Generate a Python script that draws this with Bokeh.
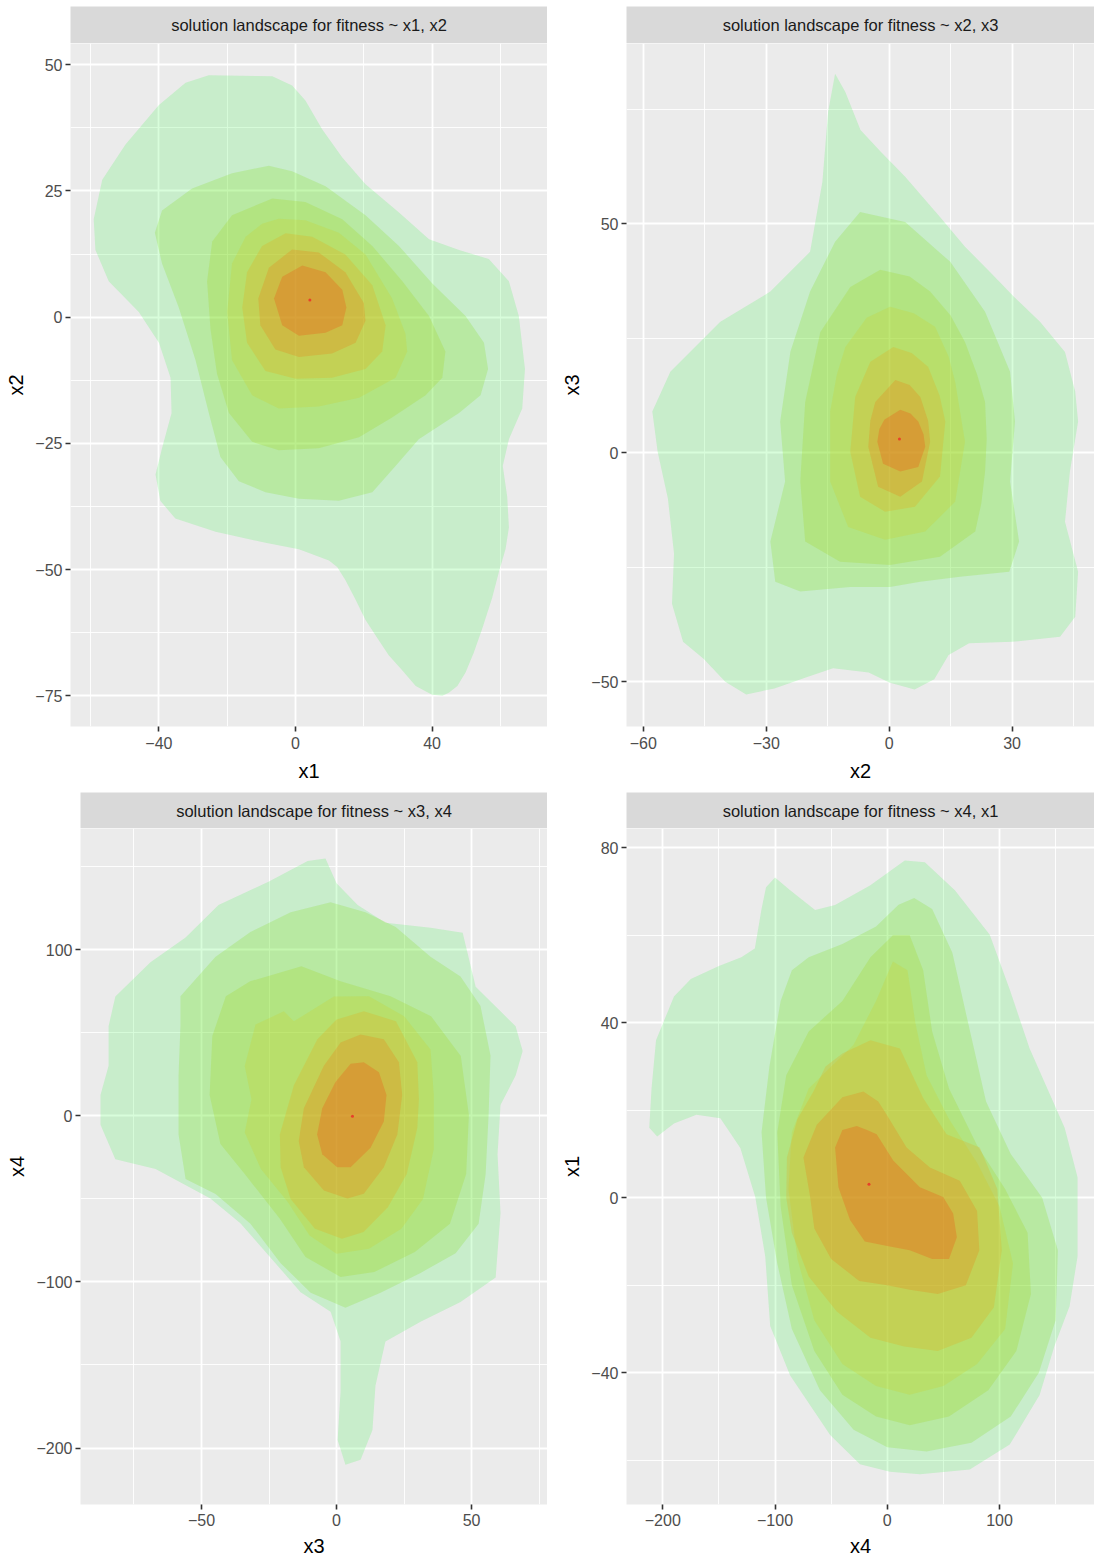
from bokeh.plotting import figure
from bokeh.layouts import column, row
from bokeh.models import Range1d, FixedTicker
from bokeh.embed import file_html
from bokeh.resources import INLINE
from bokeh.core.properties import value

FONT = "Liberation Sans"

# ---------------- texts ----------------
strip_titles = [
    "solution landscape for fitness ~ x1, x2",
    "solution landscape for fitness ~ x2, x3",
    "solution landscape for fitness ~ x3, x4",
    "solution landscape for fitness ~ x4, x1",
]
x_titles = ["x1", "x2", "x3", "x4"]
y_titles = ["x2", "x3", "x4", "x1"]

# ---------------- ticks / limits ----------------
x_major = [[-40, 0, 40], [-60, -30, 0, 30], [-50, 0, 50], [-200, -100, 0, 100]]
x_minor = [[-60, -20, 20, 60], [-45, -15, 15, 45], [-75, -25, 25, 75], [-150, -50, 50, 150]]
y_major = [[-75, -50, -25, 0, 25, 50], [-50, 0, 50], [-200, -100, 0, 100], [-40, 0, 40, 80]]
y_minor = [[-62.5, -37.5, -12.5, 12.5, 37.5], [-25, 25, 75], [-150, -50, 50, 150], [-60, -20, 20, 60]]
x_limits = [(-65.9, 73.8), (-64.1, 50.1), (-94.8, 78.1), (-232.3, 184.6)]
y_limits = [(-81.1, 54.2), (-59.8, 89.4), (-234.0, 173.0), (-70.1, 84.4)]

# ---------------- density level colours (low -> high) ----------------
level_colors = ["#3CF54B", "#78DE00", "#9AD100", "#D0CC14", "#EF9A00", "#F56400", "#FA2600"]
level_alpha = 0.2

# ---------------- contour outlines (data units), outer -> inner ----------------
p1_contours = [
    [(-25.4, 47.9), (-6.8, 47.7), (-1.0, 45.9), (2.9, 42.9), (7.8, 37.2), (13.7, 31.6), (20.5, 26.3),
     (30.3, 20.7), (39.1, 15.4), (47.9, 13.3), (56.6, 11.5), (62.5, 7.1), (65.4, 0.2), (67.2, -10.3),
     (66.4, -18.1), (62.5, -24.2), (60.7, -29.5), (62.0, -35.6), (62.5, -41.7), (61.5, -46.0),
     (59.6, -50.4), (57.6, -55.6), (54.7, -61.7), (52.2, -66.5), (49.8, -70.4), (47.4, -73.1),
     (44.9, -74.4), (43.0, -75.0), (40.0, -74.8), (35.2, -73.1), (31.3, -70.0), (27.3, -67.0),
     (23.9, -63.5), (20.5, -60.0), (17.6, -56.0), (14.6, -52.1), (12.2, -49.5), (9.8, -48.2),
     (1.0, -46.0), (-8.8, -44.7), (-23.4, -42.5),
     (-35.2, -39.9), (-39.6, -36.4), (-41.0, -31.2), (-39.1, -26.0), (-36.3, -19.0), (-36.6, -12.0),
     (-40.0, -5.1), (-45.9, 1.0), (-54.7, 7.1), (-58.6, 13.3), (-59.1, 19.4), (-56.6, 27.2),
     (-49.8, 34.2), (-40.0, 42.0), (-32.2, 46.4)],
    [(-7.8, 30.0), (-1.0, 28.9), (8.8, 25.9), (20.5, 20.2), (30.3, 14.1), (40.0, 6.7), (49.8, 0.2),
     (55.2, -5.1), (56.4, -10.3), (54.2, -15.5), (47.9, -19.0), (36.1, -24.2), (29.3, -29.5),
     (22.5, -34.7), (12.7, -36.4), (1.0, -36.0), (-8.8, -34.7), (-16.6, -32.5), (-22.0, -27.7),
     (-25.4, -19.0), (-29.3, -8.5), (-34.2, 1.9), (-39.1, 10.6), (-41.2, 16.7), (-39.1, 21.1),
     (-30.3, 25.5), (-18.6, 28.5)],
    [(-6.8, 23.5), (2.9, 22.8), (13.7, 19.4), (22.5, 14.1), (31.3, 7.1), (39.1, 0.2), (43.9, -6.8),
     (43.0, -12.0), (38.1, -15.5), (28.3, -19.9), (18.6, -23.8), (6.8, -26.0), (-4.9, -26.4),
     (-12.7, -24.7), (-19.5, -19.0), (-23.0, -11.2), (-24.9, -2.4), (-25.9, 7.1), (-24.4, 15.0),
     (-18.6, 20.2)],
    [(-4.9, 19.5), (2.9, 19.2), (12.7, 16.7), (20.5, 12.4), (28.3, 3.7), (32.2, -3.3), (32.7, -6.8),
     (29.3, -12.0), (18.6, -16.0), (6.8, -17.7), (-4.9, -18.1), (-12.7, -15.5), (-18.6, -8.5),
     (-20.0, 1.0), (-18.6, 10.6), (-14.6, 15.9), (-9.8, 18.5)],
    [(-2.9, 16.6), (4.9, 15.9), (14.6, 12.4), (22.5, 6.3), (26.4, -1.6), (25.4, -6.8), (20.5, -10.3),
     (10.7, -12.0), (0.0, -12.2), (-8.8, -10.7), (-14.2, -5.1), (-15.6, 1.9), (-14.2, 8.9), (-9.8, 14.1)],
    [(-1.0, 13.4), (6.8, 12.8), (14.6, 8.9), (20.0, 2.8), (20.5, -0.7), (17.6, -5.1), (10.7, -7.2),
     (1.0, -7.9), (-5.9, -6.4), (-10.3, -1.6), (-10.9, 3.7), (-7.8, 9.8)],
    [(2.0, 10.2), (8.8, 8.9), (13.7, 5.4), (14.9, 1.9), (13.7, -1.6), (8.8, -3.1), (1.0, -3.7),
     (-3.9, -1.6), (-6.3, 3.7), (-3.9, 8.0)],
]

p2_contours = [
    [(-13.2, 82.8), (-10.7, 78.8), (-7.0, 70.5), (-2.0, 65.7), (3.9, 60.3), (12.4, 51.5), (18.5, 45.0),
     (24.6, 39.5), (30.5, 34.0), (36.8, 28.6), (42.9, 22.0), (45.4, 13.3), (46.1, 6.8), (44.1, -4.1),
     (42.9, -15.1), (46.1, -26.0), (45.4, -35.8),
     (41.7, -40.2), (30.0, -41.3), (19.5, -41.6), (14.5, -44.2), (11.0, -49.5), (6.2, -51.7),
     (0.0, -50.2), (-5.0, -48.0), (-13.7, -47.1), (-20.0, -49.0), (-28.0, -51.5), (-34.9, -52.8),
     (-40.0, -50.0), (-45.3, -45.0), (-50.3, -41.3), (-53.0, -33.0), (-52.5, -22.0), (-54.0, -10.0),
     (-56.5, 0.2), (-57.8, 9.0), (-53.4, 17.7), (-41.2, 28.6), (-29.0, 35.2), (-19.3, 43.9),
     (-16.3, 59.2), (-14.9, 74.5)],
    [(-7.1, 52.6), (3.9, 50.4), (14.9, 41.7), (23.4, 30.8), (29.5, 17.7), (30.7, 6.8), (29.5, -6.3),
     (31.7, -19.4), (29.3, -26.0), (17.3, -27.1), (7.6, -28.2), (0.2, -29.3), (-9.5, -29.3),
     (-21.7, -30.3), (-27.8, -28.2), (-29.0, -19.4), (-25.4, -6.3), (-26.6, 6.8), (-24.1, 22.1),
     (-19.3, 35.2), (-13.2, 46.1)],
    [(-2.2, 40.0), (5.0, 38.5), (10.0, 35.2), (15.0, 30.0), (18.5, 24.2), (21.5, 17.0), (23.4, 11.1),
     (23.8, 3.0), (23.4, -4.1), (22.5, -11.0), (21.0, -17.2), (12.4, -22.7), (0.2, -24.5),
     (-12.0, -23.8), (-20.5, -19.4), (-21.7, -6.3), (-20.5, 11.1), (-16.8, 26.4), (-9.5, 36.2)],
    [(0.2, 31.9), (6.0, 30.5), (11.2, 27.5), (14.5, 21.0), (16.1, 15.5), (18.5, 2.4), (16.1, -10.7),
     (8.8, -17.2), (-1.0, -19.0), (-10.0, -16.2), (-14.4, -6.3), (-14.4, 9.0), (-12.8, 17.0),
     (-10.7, 23.1), (-5.5, 29.5)],
    [(1.0, 23.1), (5.5, 21.8), (9.5, 18.8), (12.3, 12.5), (13.7, 6.8), (12.4, -5.2), (6.3, -11.8),
     (-1.0, -12.9), (-7.1, -9.6), (-9.5, 0.2), (-8.3, 12.2), (-4.6, 19.9)],
    [(1.5, 15.9), (5.0, 14.8), (7.6, 12.2), (9.5, 7.0), (10.0, 2.4), (8.0, -6.3), (2.7, -9.6),
     (-2.7, -7.4), (-5.1, 1.3), (-4.6, 7.0), (-3.4, 11.1)],
    [(2.7, 9.4), (5.2, 8.6), (7.1, 6.8), (8.4, 4.0), (8.8, 1.3), (7.1, -3.1), (2.7, -4.1), (-1.5, -2.4),
     (-2.9, 2.4), (-2.4, 5.2), (-1.2, 7.2)],
]

p3_contours = [
    [(-10.7, 153.5), (-4.1, 155.0), (0.0, 140.0), (7.8, 127.0), (18.1, 116.3), (34.8, 113.3),
     (46.7, 110.3), (51.5, 77.7), (58.9, 65.8), (66.3, 54.0), (68.9, 39.1), (66.3, 24.3), (60.7, 6.5),
     (59.6, -23.1), (60.7, -58.7), (58.9, -97.3), (45.9, -112.1), (31.1, -124.0), (18.1, -135.8),
     (14.4, -162.5), (13.3, -189.2), (8.9, -207.0), (3.3, -210.0), (0.4, -195.1), (1.5, -165.5),
     (1.5, -135.8), (-2.2, -118.0), (-13.3, -106.2), (-24.4, -85.4), (-35.6, -64.6), (-46.7, -49.8),
     (-67.0, -32.0), (-81.9, -26.1), (-87.4, -5.3), (-87.4, 12.5), (-84.4, 30.2), (-84.4, 54.0),
     (-81.9, 71.8), (-68.9, 92.5), (-55.9, 107.4), (-43.7, 127.0), (-25.2, 141.0)],
    [(-57.8, 72.0), (-44.8, 95.8), (-31.9, 110.7), (-17.0, 122.6), (-2.2, 128.6), (10.7, 122.6),
     (21.9, 113.7), (34.8, 95.8), (45.9, 83.9), (53.3, 66.1), (57.0, 36.3), (56.3, 0.6), (55.2, -35.1),
     (52.6, -64.9), (44.1, -82.7), (31.1, -94.6), (16.3, -106.5), (3.3, -115.5), (-9.6, -106.5),
     (-20.7, -88.7), (-31.9, -64.9), (-44.8, -47.0), (-55.9, -38.1), (-58.5, -11.3), (-58.5, 24.4),
     (-57.8, 54.2)],
    [(-32.0, 81.0), (-13.0, 90.0), (1.5, 81.0), (20.0, 72.0), (35.0, 60.0), (46.0, 36.0), (49.0, 0.6),
     (48.0, -35.0), (42.0, -65.0), (29.0, -82.0), (14.0, -94.0), (1.5, -97.0), (-11.5, -85.0),
     (-21.0, -62.0), (-34.0, -35.0), (-43.0, -17.0), (-47.0, 12.5), (-46.0, 48.0), (-41.0, 72.0)],
    [(-19.5, 62.9), (-15.8, 56.9), (-1.0, 71.8), (12.0, 72.0), (25.0, 60.0), (34.8, 40.0), (36.0, 12.5),
     (36.0, -20.0), (32.0, -50.0), (24.0, -68.0), (12.0, -80.0), (0.0, -83.0), (-10.0, -72.0),
     (-18.0, -52.0), (-28.0, -32.0), (-34.0, -10.0), (-31.5, 10.0), (-34.0, 30.0), (-30.0, 55.0)],
    [(10.1, 62.9), (22.0, 57.0), (29.9, 32.2), (30.5, 10.0), (29.9, -7.3), (26.0, -35.0), (19.0, -55.0),
     (10.0, -70.0), (2.0, -74.0), (-8.0, -68.0), (-17.0, -50.0), (-20.7, -31.0), (-21.0, -11.3),
     (-15.8, 18.4), (-7.1, 46.1), (0.0, 58.0)],
    [(8.9, 49.0), (17.5, 46.1), (23.1, 32.2), (24.3, 12.5), (22.5, -11.3), (17.5, -31.0), (10.1, -46.9),
     (4.0, -49.8), (-4.7, -44.9), (-12.1, -31.0), (-14.0, -15.2), (-12.1, 4.6), (-4.7, 30.2), (1.5, 44.1)],
    [(5.2, 31.3), (10.1, 32.2), (15.7, 26.3), (18.5, 12.5), (17.5, -3.4), (12.6, -19.2), (5.2, -31.0),
     (0.2, -31.0), (-5.3, -23.1), (-7.2, -11.3), (-5.3, 4.6), (-0.4, 20.3)],
]

p4_contours = [
    [(-100.0, 73.2), (-86.5, 70.3), (-64.3, 65.8), (-46.5, 66.9), (-15.4, 71.4), (15.6, 77.1),
     (33.5, 76.7), (60.2, 70.3), (91.3, 60.1), (109.1, 47.6), (126.8, 34.1), (158.0, 16.0), (169.5, 4.7),
     (169.5, -13.4), (162.4, -24.8), (149.0, -33.8), (135.7, -45.1), (109.1, -56.4), (73.5, -62.1),
     (29.1, -63.2), (2.4, -62.6), (-24.3, -60.9), (-50.9, -54.2), (-86.5, -40.6), (-104.3, -29.3),
     (-108.7, -13.4), (-117.6, 0.2), (-130.9, 11.4), (-148.7, 18.2), (-170.0, 19.0), (-190.0, 17.0),
     (-205.0, 14.0), (-212.0, 16.0), (-210.0, 25.0), (-206.0, 36.0), (-190.0, 46.0), (-175.0, 50.0),
     (-150.0, 53.0), (-130.0, 55.0), (-118.0, 57.0), (-112.0, 66.0), (-108.0, 71.0)],
    [(-70.0, 55.0), (-40.0, 58.0), (-10.0, 62.0), (10.0, 67.0), (24.0, 68.5), (40.0, 66.0), (58.0, 56.0),
     (72.0, 40.0), (88.0, 22.0), (110.0, 10.0), (138.0, 0.0), (152.0, -12.0), (150.0, -28.0),
     (135.0, -40.0), (110.0, -50.0), (75.0, -56.0), (35.0, -58.0), (0.0, -57.0), (-30.0, -53.0),
     (-60.0, -44.0), (-85.0, -30.0), (-98.0, -15.0), (-108.0, 0.0), (-112.0, 15.0), (-105.0, 30.0),
     (-95.0, 45.0), (-85.0, 52.0)],
    [(-40.0, 45.0), (-15.0, 55.0), (5.0, 60.0), (20.0, 60.0), (32.0, 52.0), (40.0, 38.0), (55.0, 25.0),
     (80.0, 12.0), (105.0, 2.0), (125.0, -8.0), (128.0, -22.0), (115.0, -35.0), (90.0, -44.0),
     (55.0, -50.0), (20.0, -52.0), (-10.0, -50.0), (-40.0, -45.0), (-65.0, -35.0), (-85.0, -20.0),
     (-95.0, -2.0), (-98.0, 15.0), (-90.0, 28.0), (-70.0, 38.0)],
    [(-30.0, 35.0), (-10.0, 45.0), (5.0, 54.0), (18.0, 52.0), (25.0, 40.0), (35.0, 28.0), (55.0, 18.0),
     (80.0, 8.0), (100.0, -2.0), (112.0, -15.0), (105.0, -30.0), (80.0, -38.0), (50.0, -43.0),
     (20.0, -45.0), (-10.0, -43.0), (-40.0, -38.0), (-65.0, -28.0), (-80.0, -14.0), (-88.0, 2.0),
     (-85.0, 15.0), (-70.0, 25.0), (-50.0, 30.0)],
    [(-40.0, 33.0), (-15.0, 36.0), (11.3, 34.1), (32.0, 22.8), (52.8, 14.5), (82.4, 11.5), (98.0, 2.0),
     (102.0, -12.0), (95.0, -25.0), (75.0, -32.0), (45.0, -35.0), (15.0, -34.0), (-15.0, -32.0),
     (-45.0, -26.0), (-70.0, -18.0), (-85.0, -8.0), (-90.0, 0.0), (-89.4, 9.2), (-80.0, 18.0),
     (-65.8, 24.3), (-55.0, 30.0)],
    [(-21.3, 24.3), (-8.0, 22.0), (-0.5, 19.0), (17.2, 11.5), (38.0, 6.9), (64.6, 3.9), (80.0, -3.0),
     (82.0, -12.0), (70.0, -20.0), (45.0, -22.0), (20.0, -21.0), (0.0, -20.0), (-25.0, -19.0),
     (-50.0, -14.0), (-65.0, -7.0), (-68.7, 0.2), (-74.7, 9.2), (-62.8, 16.7), (-40.0, 23.0)],
    [(-27.2, 16.4), (-18.0, 15.5), (-9.4, 14.5), (5.3, 8.5), (29.1, 2.4), (49.8, 0.2), (58.7, -3.6),
     (62.0, -9.0), (55.0, -14.0), (40.0, -14.0), (20.0, -12.0), (0.0, -11.0), (-20.0, -10.0),
     (-33.2, -5.1), (-43.5, 2.4), (-46.5, 11.5), (-40.0, 15.5)],
]

all_contours = [p1_contours, p2_contours, p3_contours, p4_contours]

# best solution marker in each landscape
optimum_x = [4.2, 2.5, 5.9, -16.3]
optimum_y = [3.4, 3.0, -0.3, 3.1]

# ---------------- layout sizes (px) ----------------
border_left = [70, 79, 80, 79]
frame_w = [477, 468, 467, 468]
frame_h = [683, 683, 676, 676]
border_bottom = [66, 66, 56, 56]
strip_top = [6, 6, 0, 0]
strip_h = [37, 37, 36, 36]
label_standoff = [5, 5, 4, 4]
title_standoff = [8, 8, 6, 6]


def minus_label(v):
    return ("%g" % v).replace("-", "\u2212")


def make_panel(i):
    strip = figure(frame_width=frame_w[i], frame_height=strip_h[i], title=None,
                   min_border_left=border_left[i], min_border_right=0,
                   min_border_top=strip_top[i], min_border_bottom=0,
                   x_range=Range1d(0, 1), y_range=Range1d(0, 1),
                   x_axis_type=None, y_axis_type=None,
                   toolbar_location=None, output_backend="svg",
                   background_fill_color="#D9D9D9", border_fill_color="white",
                   outline_line_color=None)
    strip.text(x=[0.5], y=[0.5], text=[strip_titles[i]], text_align="center",
               text_baseline="middle", text_font=value(FONT), text_font_size="16.5px",
               text_color="#1A1A1A")

    p = figure(frame_width=frame_w[i], frame_height=frame_h[i], title=None,
               min_border_left=border_left[i], min_border_right=0,
               min_border_top=0, min_border_bottom=border_bottom[i],
               x_range=Range1d(*x_limits[i]), y_range=Range1d(*y_limits[i]),
               toolbar_location=None, output_backend="svg",
               background_fill_color="#EBEBEB", border_fill_color="white",
               outline_line_color=None)

    xt = FixedTicker(ticks=x_major[i], minor_ticks=x_minor[i])
    yt = FixedTicker(ticks=y_major[i], minor_ticks=y_minor[i])
    p.xaxis.ticker = xt
    p.yaxis.ticker = yt
    p.xgrid.ticker = xt
    p.ygrid.ticker = yt
    p.xaxis.major_label_overrides = {v: minus_label(v) for v in x_major[i]}
    p.yaxis.major_label_overrides = {v: minus_label(v) for v in y_major[i]}
    p.xaxis.axis_label = x_titles[i]
    p.yaxis.axis_label = y_titles[i]

    for ax in (p.xaxis[0], p.yaxis[0]):
        ax.axis_line_color = None
        ax.major_tick_line_color = "#333333"
        ax.major_tick_line_width = 1.6
        ax.major_tick_out = 5
        ax.major_tick_in = 0
        ax.minor_tick_line_color = None
        ax.major_label_text_font = FONT
        ax.major_label_text_font_size = "16px"
        ax.major_label_text_color = "#4D4D4D"
        ax.axis_label_text_font = FONT
        ax.axis_label_text_font_size = "20px"
        ax.axis_label_text_color = "#000000"
        ax.axis_label_text_font_style = "normal"
    p.xaxis[0].major_label_standoff = label_standoff[i]
    p.xaxis[0].axis_label_standoff = title_standoff[i]
    p.yaxis[0].major_label_standoff = 3
    p.yaxis[0].axis_label_standoff = 5

    for g in (p.xgrid[0], p.ygrid[0]):
        g.grid_line_color = "white"
        g.grid_line_width = 1.8
        g.minor_grid_line_color = "white"
        g.minor_grid_line_width = 0.9

    for k, level in enumerate(all_contours[i]):
        xs = [pt[0] for pt in level]
        ys = [pt[1] for pt in level]
        p.patch(xs, ys, fill_color=level_colors[k], fill_alpha=level_alpha, line_color=None)

    p.scatter([optimum_x[i]], [optimum_y[i]], size=3, fill_color="#E8402A", line_color=None)
    return column(strip, p)


layout = column(row(make_panel(0), make_panel(1)), row(make_panel(2), make_panel(3)))

open("out.html", "w").write(file_html(layout, INLINE))
